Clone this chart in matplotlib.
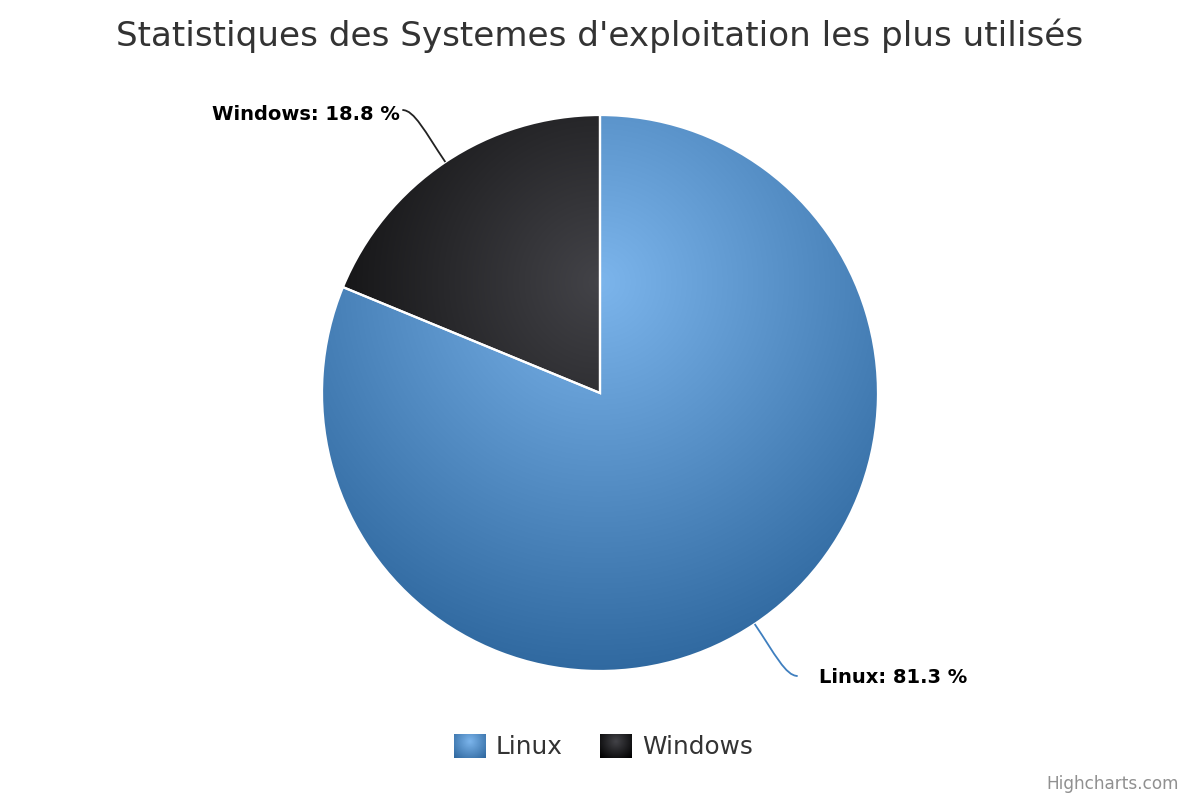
import numpy as np
import matplotlib
matplotlib.use("Agg")
import matplotlib.pyplot as plt
from matplotlib.path import Path
from matplotlib.patches import PathPatch, Rectangle

# ---- data ----
title = "Statistiques des Systemes d'exploitation les plus utilisés"
categories = ["Linux", "Windows"]
values = [81.3, 18.8]
base_colors = [(124, 181, 236), (67, 67, 72)]
dark_colors = [(48, 105, 160), (0, 0, 0)]
credit = "Highcharts.com"

W, H = 1200, 800
fig = plt.figure(figsize=(12, 8), dpi=100)
ax = fig.add_axes([0, 0, 1, 1])

cx, cy, R = 600, 800 - 393, 278
wedges, _ = ax.pie(values, startangle=90, counterclock=False, center=(cx, cy), radius=R,
                   colors=['none', 'none'],
                   wedgeprops=dict(edgecolor='white', linewidth=1.6, zorder=3))
ax.set_xlim(0, W)
ax.set_ylim(0, H)
ax.set_aspect('equal')
ax.axis('off')

# radial gradient (Highcharts style: cx .5, cy .3, r .7 of pie bbox)
gx, gy = cx, cy + R - 0.3 * 2 * R
gr = 0.7 * 2 * R


def grad_img(x0, x1, y0, y1, c0, c1, gcx, gcy, grr, n=400):
    xs = np.linspace(x0, x1, n)
    ys = np.linspace(y0, y1, n)
    X, Y = np.meshgrid(xs, ys)
    t = np.clip(np.hypot(X - gcx, Y - gcy) / grr, 0, 1)[..., None]
    c0 = np.array(c0) / 255.0
    c1 = np.array(c1) / 255.0
    return c0 * (1 - t) + c1 * t


for w, c0, c1 in zip(wedges, base_colors, dark_colors):
    img = grad_img(cx - R - 2, cx + R + 2, cy - R - 2, cy + R + 2, c0, c1, gx, gy, gr)
    im = ax.imshow(img, extent=(cx - R - 2, cx + R + 2, cy - R - 2, cy + R + 2),
                   origin='lower', zorder=2, interpolation='bilinear')
    im.set_clip_path(w)

# data labels with curved connectors
conn_colors = ['#3f7fbf', '#222222']
for w, cat, v, cc in zip(wedges, categories, values, conn_colors):
    mid = np.deg2rad((w.theta1 + w.theta2) / 2)
    ex, ey = cx + R * np.cos(mid), cy + R * np.sin(mid)
    sx = 1 if np.cos(mid) > 0 else -1
    sy = 1 if np.sin(mid) > 0 else -1
    end = (ex + sx * 43, ey + sy * 52)
    p1 = (ex + sx * 20 * abs(np.cos(mid)) / 0.55, ey + sy * 30)
    p2 = (end[0] - sx * 12, end[1])
    path = Path([(ex, ey), p1, p2, end], [Path.MOVETO, Path.CURVE4, Path.CURVE4, Path.CURVE4])
    ax.add_patch(PathPatch(path, fc='none', ec=cc, lw=1.3, zorder=4))
    if sx < 0:
        ax.text(end[0] - 2, end[1] - 4, f"{cat}: {v} %", ha='right', va='center',
                fontsize=14, fontweight='bold', color='black')
    else:
        ax.text(end[0] + 21, end[1] - 2, f"{cat}: {v} %", ha='left', va='center',
                fontsize=14, fontweight='bold', color='black')

# title
ax.text(W / 2, 800 - 36, title, ha='center', va='center', fontsize=24.6, color='#333333')

# legend
leg_x = [454, 600]
for lx, cat, c0, c1 in zip(leg_x, categories, base_colors, dark_colors):
    x0, y0, ww, hh = lx, 800 - 758, 32, 24
    rect = Rectangle((x0, y0), ww, hh, fc='none', ec='none')
    ax.add_patch(rect)
    img = grad_img(x0, x0 + ww, y0, y0 + hh, c0, c1, x0 + ww / 2, y0 + hh * 0.7, 0.7 * ww, n=60)
    im = ax.imshow(img, extent=(x0, x0 + ww, y0, y0 + hh), origin='lower', zorder=2)
    im.set_clip_path(rect)
    ax.text(x0 + 42, y0 + hh / 2 - 1, cat, ha='left', va='center', fontsize=17.8, color='#333333')

ax.text(1179, 800 - 784, credit, ha='right', va='center', fontsize=12.2, color='#909090')

ax.set_xlim(0, W)
ax.set_ylim(0, H)
fig.savefig('out.png', dpi=100, facecolor='white')
